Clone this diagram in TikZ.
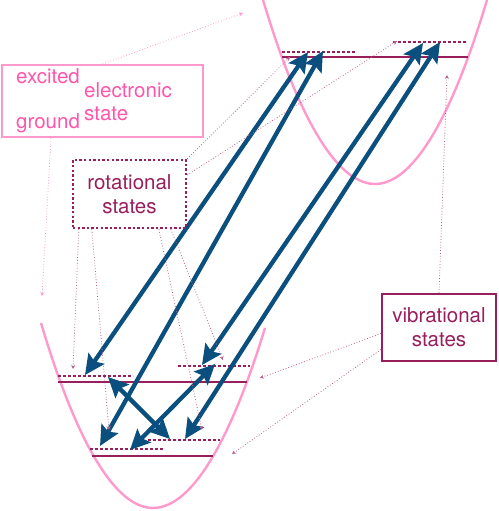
\documentclass[tikz,border=0pt]{standalone}
\usepackage{fontspec}
\setmainfont{TeX Gyre Heros}
\usetikzlibrary{arrows.meta}
\definecolor{wellpink}{HTML}{FF99CC}
\definecolor{textpink}{HTML}{FF55AA}
\definecolor{maroon}{HTML}{981E5C}
\definecolor{transblue}{HTML}{0A4F7D}
\tikzset{
  well/.style={wellpink, line width=2.4pt},
  level/.style={maroon, line width=2.8pt},
  rotlevel/.style={maroon, line width=2.6pt, dash pattern=on 2.6pt off 2.4pt},
  trans/.style={transblue, line width=4.3pt,
    {Stealth[length=20pt,width=19pt,inset=3.5pt]}-{Stealth[length=20pt,width=19pt,inset=3.5pt]}},
  pointer/.style={maroon!70, line width=0.8pt, dotted, -{Stealth[length=4pt,width=4pt]}},
  pinkpointer/.style={pointer, wellpink},
  label/.style={font=\fontsize{20.5}{24}\selectfont, inner sep=0pt}
}
\begin{document}
\begin{tikzpicture}[x=1pt,y=-1pt]
  \useasboundingbox (0,0) rectangle (498,511);

  % Potential wells
  \draw[well] (263,0) parabola bend (375,184) (487,0);
  \draw[well] (41,323) parabola bend (153,508) (265,328);

  % Excited state levels
  \draw[level] (282,57) -- (468,57);
  \draw[rotlevel] (282,52) -- (355,52);
  \draw[rotlevel] (393,42) -- (467,42);

  % Ground state levels
  \draw[level] (58,382) -- (247,382);
  \draw[rotlevel] (58,376) -- (133,376);
  \draw[rotlevel] (178,366) -- (250,366);
  \draw[level] (92,456) -- (213,456);
  \draw[rotlevel] (90,449) -- (163,449);
  \draw[rotlevel] (148,440) -- (220,440);

  % Transition end points
  \coordinate (e1) at (308,52);
  \coordinate (e2) at (323,51);
  \coordinate (e3) at (423,43);
  \coordinate (e4) at (440,42);
  \coordinate (g1) at (85,375);
  \coordinate (g2) at (100,446);
  \coordinate (g3) at (202,365);
  \coordinate (g4) at (185,439);
  \coordinate (x1a) at (108,377);
  \coordinate (x1b) at (170,439);
  \coordinate (x2a) at (215,364);
  \coordinate (x2b) at (130,450);

  % Transitions
  \draw[trans] (g1) -- (e1);
  \draw[trans] (g2) -- (e2);
  \draw[trans] (g3) -- (e3);
  \draw[trans] (g4) -- (e4);
  \draw[trans] (x1a) -- (x1b);
  \draw[trans] (x2a) -- (x2b);

  % Label boxes
  \node[draw=wellpink, line width=2pt, minimum width=201pt, minimum height=72pt] (elecbox) at (102.5,101) {};
  \node[label, textpink, anchor=base west] (excited) at (16,84) {excited};
  \node[label, textpink, anchor=base west] (electronic) at (84,97) {electronic};
  \node[label, textpink, anchor=base west] (state) at (84,120) {state};
  \node[label, textpink, anchor=base west] (ground) at (16,128) {ground};

  \node[draw=maroon, line width=2.4pt, dash pattern=on 2.4pt off 2.2pt, minimum width=113pt, minimum height=68pt,
        label, maroon, align=center] (rotbox) at (129.5,194) {rotational\\states};
  \node[draw=maroon, line width=2pt, minimum width=114pt, minimum height=67pt,
        label, maroon, align=center] (vibbox) at (439,327.5) {vibrational\\states};

  % Pointer targets
  \coordinate (t1) at (243,13);
  \coordinate (t2) at (42,296);
  \coordinate (t3) at (290,57);
  \coordinate (t4) at (397,41);
  \coordinate (t5) at (73,369);
  \coordinate (t6) at (109,430);
  \coordinate (t7) at (202,430);
  \coordinate (t8) at (223,360);
  \coordinate (t9) at (447,75);
  \coordinate (t10) at (260,378);
  \coordinate (t11) at (232,454);

  % Pointers
  \draw[pinkpointer] (elecbox.north) -- (t1);
  \draw[pinkpointer] (elecbox.south west) ++(50,0) coordinate (s2) -- (t2);
  \draw[pointer] (rotbox.north east) -- (t3);
  \draw[pointer] (rotbox.east) ++(0,-19) coordinate (s4) -- (t4);
  \draw[pointer] (rotbox.south west) ++(7,0) coordinate (s5) -- (t5);
  \draw[pointer] (rotbox.south west) ++(20,0) coordinate (s6) -- (t6);
  \draw[pointer] (rotbox.south west) ++(87,0) coordinate (s7) -- (t7);
  \draw[pointer] (rotbox.south west) ++(99,0) coordinate (s8) -- (t8);
  \draw[pointer] (vibbox.north) -- (t9);
  \draw[pointer] (vibbox.west) ++(0,6) coordinate (s10) -- (t10);
  \draw[pointer] (vibbox.west) ++(0,22) coordinate (s11) -- (t11);
\end{tikzpicture}
\end{document}
